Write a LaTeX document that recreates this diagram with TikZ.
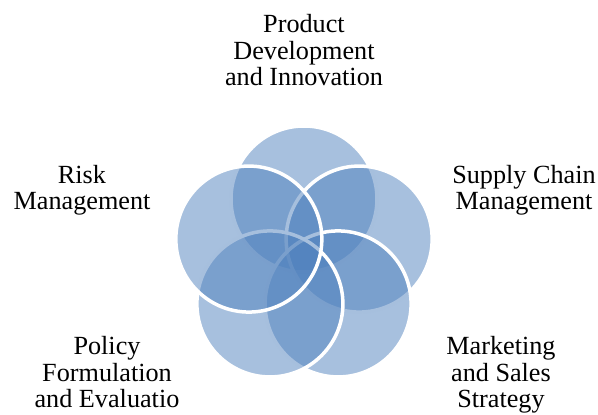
\documentclass[tikz,border=0pt]{standalone}
\usepackage{fontspec}
\setmainfont{Liberation Serif}
\usetikzlibrary{positioning}

\definecolor{petalblue}{RGB}{79,129,189}

\begin{document}
\begin{tikzpicture}[x=1pt,y=1pt,
  petal/.style={fill=petalblue,fill opacity=0.5,draw=white,line width=3.5pt},
  lbl/.style={align=center,inner sep=0pt,anchor=base,
    font=\fontsize{26.2}{26.7}\selectfont}]
\useasboundingbox (-304,-158) rectangle (294,257);

\coordinate (hub) at (0,0);
% petals, drawn clockwise from the top
\path (hub) ++(90:58) coordinate (cprod);
\path (hub) ++(18:58) coordinate (csupply);
\path (hub) ++(-54:58) coordinate (cmarket);
\path (hub) ++(234:58) coordinate (cpolicy);
\path (hub) ++(162:58) coordinate (crisk);

\draw[petal] (cprod) circle (73);
\draw[petal] (csupply) circle (73);
\draw[petal] (cmarket) circle (73);
\draw[petal] (cpolicy) circle (73);
\draw[petal] (crisk) circle (73);

% labels (placed at the baseline of their last line)
\node[lbl] (prod) at (0,171) {Product\\Development\\and Innovation};
\node[lbl] (supply) at (220,47) {Supply Chain\\Management};
\node[lbl] (market) at (197,-151) {Marketing\\and Sales\\Strategy};
\node[lbl] (policy) at (-197,-151) {Policy\\Formulation\\and Evaluatio};
\node[lbl] (risk) at (-222,47) {Risk\\Management};

\end{tikzpicture}
\end{document}
